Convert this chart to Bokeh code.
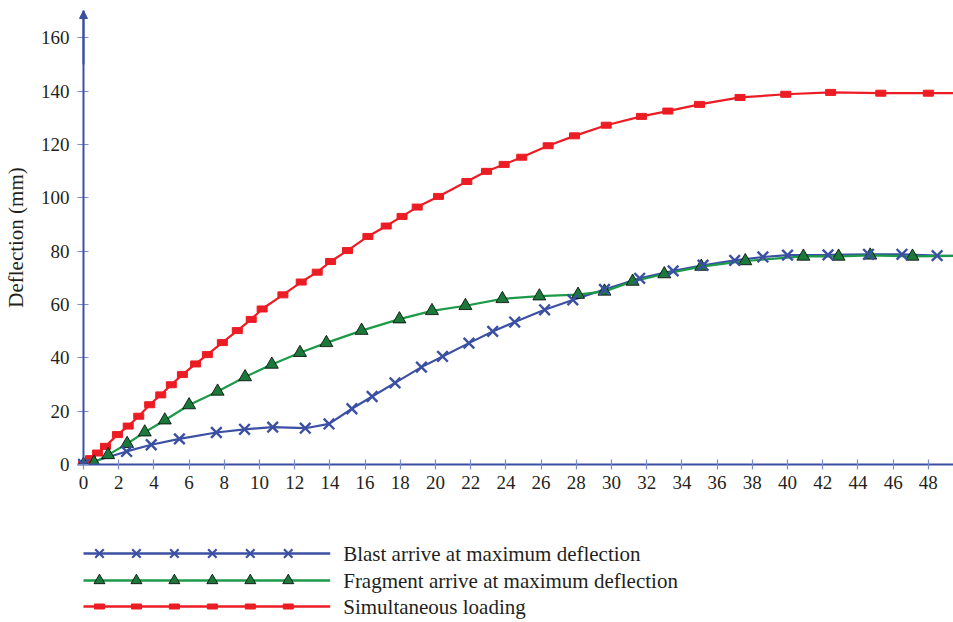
from bokeh.plotting import figure
from bokeh.layouts import column
from bokeh.models import Range1d, FixedTicker, Arrow, NormalHead, Label, Span
from bokeh.core.properties import value
from bokeh.embed import file_html
from bokeh.resources import INLINE

# ---------------- data ----------------
blast_t = [0, 2.45, 3.85, 5.45, 7.55, 9.15, 10.75, 12.6, 13.95, 15.25, 16.4, 17.7, 19.2, 20.4,
           21.9, 23.25, 24.5, 26.2, 27.8, 29.6, 31.6, 33.5, 35.2, 37.0, 38.6, 40.0, 42.3, 44.6,
           46.5, 48.5]
blast_d = [0, 4.9, 7.4, 9.6, 12.0, 13.2, 14.0, 13.6, 15.2, 20.9, 25.5, 30.6, 36.5, 40.5,
           45.5, 49.9, 53.4, 58.0, 61.7, 65.6, 69.8, 72.6, 74.7, 76.5, 77.8, 78.5, 78.6, 78.8,
           78.8, 78.3]

frag_t = [0, 0.6, 1.4, 2.48, 3.48, 4.62, 6.0, 7.62, 9.18, 10.7, 12.3, 13.8, 15.8, 17.95,
          19.8, 21.7, 23.8, 25.9, 28.1, 29.6, 31.2, 33.0, 35.1, 37.6, 40.9, 42.9, 44.7, 47.1]
frag_d = [0, 0.7, 3.6, 7.8, 12.1, 16.6, 22.3, 27.4, 32.8, 37.5, 41.9, 45.6, 50.2, 54.5,
          57.6, 59.5, 62.1, 63.1, 63.7, 64.9, 68.6, 71.4, 74.2, 76.3, 78.0, 78.0, 78.4, 78.0]

sim_t = [0, 0.4, 0.8, 1.25, 1.93, 2.54, 3.14, 3.76, 4.39, 4.99, 5.62, 6.37, 7.04, 7.89,
         8.74, 9.53, 10.15, 11.33, 12.37, 13.28, 14.04, 15.0, 16.16, 17.2, 18.1, 18.96,
         20.17, 21.78, 22.9, 23.9, 24.9, 26.4, 27.9, 29.7, 31.7, 33.2, 35.0, 37.3, 39.9,
         42.45, 45.3, 48.0]
sim_d = [0, 2.2, 4.3, 6.8, 11.2, 14.4, 18.1, 22.4, 26.1, 29.9, 33.7, 37.7, 41.2, 45.7,
         50.2, 54.4, 58.3, 63.6, 68.4, 72.1, 76.1, 80.2, 85.5, 89.4, 93.0, 96.5,
         100.5, 106.1, 109.9, 112.5, 115.2, 119.5, 123.2, 127.2, 130.5, 132.5, 135.0, 137.6, 138.8,
         139.5, 139.2, 139.2]

# values where each curve leaves the plot on the right
t_end = 49.4
blast_end = 78.2
frag_end = 78.2
sim_end = 139.2

x_ticks = list(range(0, 50, 2))
y_ticks = list(range(0, 161, 20))

series_names = ["Blast arrive at maximum deflection",
                "Fragment arrive at maximum deflection",
                "Simultaneous loading"]

# ---------------- styles ----------------
BLUE = "#3b50a3"
TICK = "#7d8cc8"
GREEN = "#1c9a48"
GREEN_FILL = "#1b7a3b"
RED = "#ec1c24"
TXT = "#231f20"
FONT = "Liberation Serif"

p = figure(width=953, height=530, output_backend="svg", toolbar_location=None,
           x_range=Range1d(-0.34, 49.43), y_range=Range1d(0, 170.2),
           min_border_left=76, min_border_right=0, min_border_top=10, min_border_bottom=66)
p.outline_line_color = None
p.grid.grid_line_color = None
p.background_fill_color = "white"

for ax in (p.xaxis[0], p.yaxis[0]):
    ax.axis_line_color = BLUE
    ax.axis_line_width = 2
    ax.major_tick_line_color = TICK
    ax.major_tick_line_width = 1.2
    ax.minor_tick_line_color = None
    ax.major_label_text_font = FONT
    ax.major_label_text_font_size = "19px"
    ax.major_label_text_color = TXT
    ax.axis_label_text_font = FONT
    ax.axis_label_text_font_size = "21px"
    ax.axis_label_text_font_style = "normal"
    ax.axis_label_text_color = TXT

p.xaxis[0].ticker = FixedTicker(ticks=x_ticks)
p.xaxis[0].major_tick_in = 5
p.xaxis[0].major_tick_out = 5
p.xaxis[0].major_label_standoff = 6

p.yaxis[0].ticker = FixedTicker(ticks=y_ticks)
p.yaxis[0].axis_line_color = None
p.yaxis[0].major_tick_in = 11
p.yaxis[0].major_tick_out = 0
p.yaxis[0].major_label_standoff = 8
p.yaxis[0].axis_label = "Deflection (mm)"
p.yaxis[0].axis_label_standoff = 10

# vertical axis line at t = 0 with arrow head
p.add_layout(Span(location=0, dimension="height", line_color=BLUE, line_width=2))
p.add_layout(Arrow(end=NormalHead(size=8, fill_color=BLUE, line_color=BLUE, line_width=1),
                   x_start=0, y_start=150, x_end=0, y_end=170.2,
                   line_color=BLUE, line_width=2))

p.add_layout(Label(x=21.85, y=-18.5, text="Time (ms)", text_font=FONT, text_font_size="21px",
                   text_color=TXT, text_align="center", text_baseline="middle"))

# curves
p.line(blast_t + [t_end], blast_d + [blast_end], line_color=BLUE, line_width=2.2)
p.line(frag_t + [t_end], frag_d + [frag_end], line_color=GREEN, line_width=2.2)
p.line(sim_t + [t_end], sim_d + [sim_end], line_color=RED, line_width=2.2)

p.rect(sim_t, sim_d, width=10, height=6, width_units="screen", height_units="screen",
       fill_color=RED, line_color=RED)
p.scatter(frag_t, frag_d, marker="triangle", size=13, fill_color=GREEN_FILL,
          line_color="black", line_width=0.8)
p.scatter(blast_t, blast_d, marker="x", size=15, line_color=BLUE, line_width=2.4)

# ---------------- legend (separate strip below, frame aligned with the plot) ----------------
leg = figure(width=953, height=92, output_backend="svg", toolbar_location=None,
             x_range=Range1d(76, 953), y_range=Range1d(92, 0),
             min_border_left=76, min_border_right=0, min_border_top=0, min_border_bottom=0,
             x_axis_type=None, y_axis_type=None)
leg.outline_line_color = None
leg.grid.grid_line_color = None

row_y = [23, 50, 76]
line_x0, line_x1 = 82, 329
sample_x = [98, 135, 173, 211, 249, 287]
text_x = 342

leg.line([line_x0, line_x1], [row_y[0]] * 2, line_color=BLUE, line_width=2.5)
leg.scatter(sample_x, [row_y[0]] * 6, marker="x", size=12, line_color=BLUE, line_width=2.2)
leg.line([line_x0, line_x1], [row_y[1]] * 2, line_color=GREEN, line_width=2.5)
leg.scatter(sample_x, [row_y[1]] * 6, marker="triangle", size=11, fill_color=GREEN_FILL,
            line_color="black", line_width=0.8)
leg.line([line_x0, line_x1], [row_y[2]] * 2, line_color=RED, line_width=2.5)
leg.rect(sample_x, [row_y[2]] * 6, width=10, height=5, width_units="screen",
         height_units="screen", fill_color=RED, line_color=RED)
leg.text(x=[text_x] * 3, y=row_y, text=series_names, text_font=value(FONT),
         text_font_size="21px", text_color=TXT, text_baseline="middle", text_align="left")

layout = column(p, leg, spacing=0)
open("out.html", "w").write(file_html(layout, INLINE))
